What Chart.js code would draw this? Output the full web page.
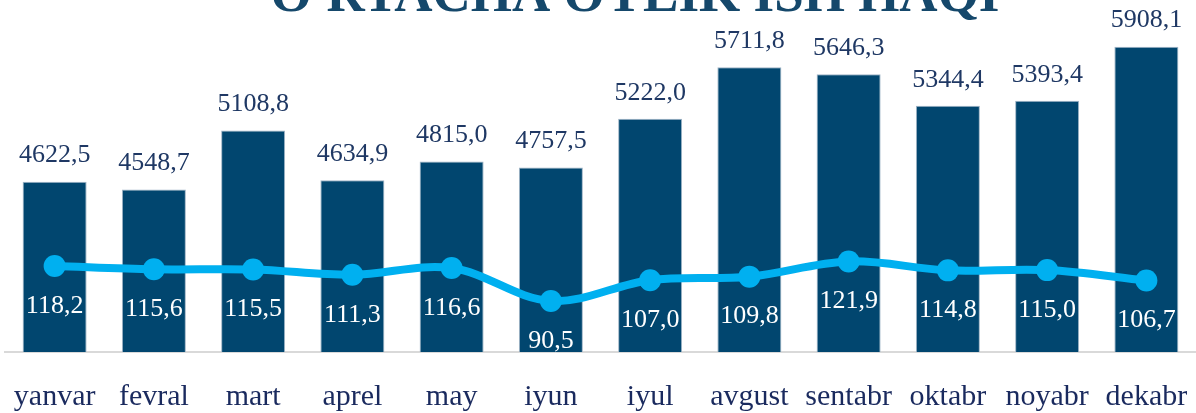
<!DOCTYPE html>
<html lang="uz">
<head>
  <meta charset="UTF-8">
  <title>O'rtacha oylik ish haqi</title>
  <script src="https://cdn.jsdelivr.net/npm/chart.js"></script>
  <style>
    html, body { margin: 0; padding: 0; background: #fff; }
    #box { width: 1196px; height: 413px; position: relative; }
  </style>
</head>
<body>
  <div id="box"><canvas id="wageChart"></canvas></div>

  <script>
    const months = ["yanvar", "fevral", "mart", "aprel", "may", "iyun", "iyul", "avgust", "sentabr", "oktabr", "noyabr", "dekabr"];
    const wage = [4622.5, 4548.7, 5108.8, 4634.9, 4815.0, 4757.5, 5222.0, 5711.8, 5646.3, 5344.4, 5393.4, 5908.1];
    const growth = [118.2, 115.6, 115.5, 111.3, 116.6, 90.5, 107.0, 109.8, 121.9, 114.8, 115.0, 106.7];
    const title = "O'RTACHA OYLIK ISH HAQI";

    const serif = "'Liberation Serif', 'Times New Roman', serif";
    const fmt = v => v.toFixed(1).replace(".", ",");

    // title sits mostly above the canvas, only its lower part shows
    const titlePlugin = {
      id: "cutTitle",
      beforeDraw(chart) {
        const ctx = chart.ctx;
        ctx.save();
        ctx.font = "bold 53px " + serif;
        ctx.fillStyle = "#15486b";
        ctx.textAlign = "center";
        ctx.textBaseline = "alphabetic";
        ctx.fillText(title, 635, 11);
        ctx.restore();
      }
    };

    const labelPlugin = {
      id: "valueLabels",
      afterDatasetsDraw(chart) {
        const ctx = chart.ctx;
        ctx.save();
        ctx.font = "26px " + serif;
        ctx.textAlign = "center";
        ctx.textBaseline = "middle";
        chart.getDatasetMeta(1).data.forEach((bar, i) => {
          ctx.fillStyle = "#1f3864";
          ctx.fillText(fmt(wage[i]), bar.x, bar.y - 26);
        });
        chart.getDatasetMeta(0).data.forEach((pt, i) => {
          ctx.fillStyle = "#ffffff";
          ctx.fillText(fmt(growth[i]), pt.x, pt.y + 40);
        });
        ctx.restore();
      }
    };

    new Chart(document.getElementById("wageChart"), {
      data: {
        labels: months,
        datasets: [{
          type: "line",
          label: "o'sish sur'ati, %",
          data: growth,
          yAxisID: "y2",
          borderColor: "#00b0f0",
          backgroundColor: "#00b0f0",
          borderWidth: 8,
          pointRadius: 11,
          pointHoverRadius: 11,
          pointBorderWidth: 0,
          tension: 0.35,
          order: 1
        }, {
          type: "bar",
          label: "ming so'm",
          data: wage,
          yAxisID: "y",
          backgroundColor: "#01466f",
          borderColor: "#9fb4c6",
          borderWidth: 1,
          categoryPercentage: 0.645,
          barPercentage: 1,
          order: 2
        }]
      },
      options: {
        responsive: true,
        maintainAspectRatio: false,
        animation: false,
        layout: {
          autoPadding: false,
          padding: { left: 5, right: -3, top: 37, bottom: 0 }
        },
        plugins: {
          legend: { display: false },
          tooltip: { enabled: false }
        },
        scales: {
          x: {
            grid: { display: false, drawTicks: false },
            border: { display: true, color: "#d9d9d9", width: 2 },
            ticks: {
              color: "#1a2a5e",
              font: { family: serif, size: 30 },
              padding: 27,
              maxRotation: 0,
              autoSkip: false
            },
            afterFit(scale) {
              scale.height = 61;
              scale.paddingLeft = 0;
              scale.paddingRight = 0;
            }
          },
          y: { display: false, min: 3000, max: 6000 },
          y2: { display: false, min: 50, max: 300, position: "right" }
        }
      },
      plugins: [titlePlugin, labelPlugin]
    });
  </script>
</body>
</html>
